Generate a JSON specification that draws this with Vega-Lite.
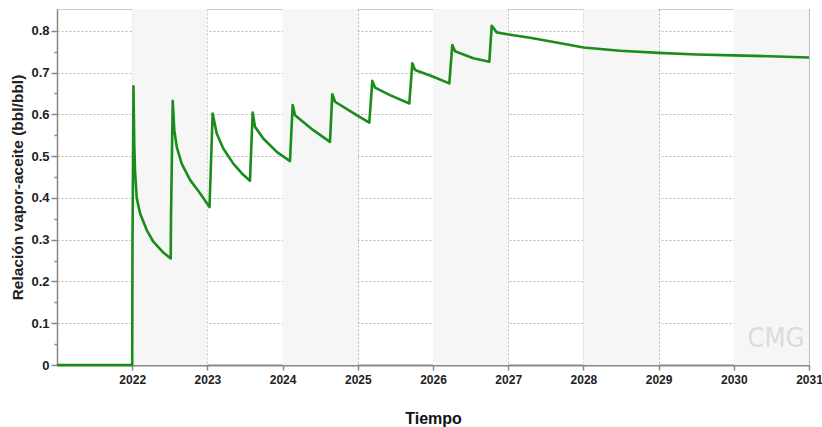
{
  "$schema": "https://vega.github.io/schema/vega-lite/v6.json",
  "autosize": {"type": "none"},
  "width": 752,
  "height": 356,
  "padding": {"left": 57, "top": 9, "right": 13, "bottom": 62},
  "background": "white",
  "config": {
    "view": {"stroke": "#cccccc", "strokeWidth": 1},
    "font": "Liberation Sans",
    "axisX": {
      "grid": true, "gridColor": "#b0b0b0", "gridDash": [2, 2], "gridWidth": 1,
      "domainColor": "#888888", "domainWidth": 2,
      "tickColor": "#888888", "tickSize": 5, "tickWidth": 1.5,
      "labelFont": "Liberation Sans", "labelFontSize": 12, "labelFontWeight": "bold",
      "labelColor": "#222222", "labelPadding": 4, "labelFlush": false,
      "titleFont": "Liberation Sans", "titleFontSize": 16, "titleFontWeight": "bold",
      "titleColor": "#111111", "titlePadding": 25
    },
    "axisY": {
      "grid": true, "gridColor": "#bbbbbb", "gridDash": [2, 2], "gridWidth": 1,
      "domainColor": "#888888", "domainWidth": 1.5,
      "tickColor": "#888888", "tickWidth": 1.5, "tickSize": 6,
      "labelFont": "Liberation Sans", "labelFontSize": 13, "labelFontWeight": "bold",
      "labelColor": "#222222", "labelPadding": 2,
      "titleFont": "Liberation Sans", "titleFontSize": 15.5, "titleFontWeight": "bold",
      "titleColor": "#222222", "titlePadding": 5
    }
  },
  "datasets": {
    "bands": [
      {"start": 2022, "end": 2023},
      {"start": 2024, "end": 2025},
      {"start": 2026, "end": 2027},
      {"start": 2028, "end": 2029},
      {"start": 2030, "end": 2031}
    ],
    "mark": [
      {"label": "CMG"}
    ],
    "series": [
      {"t": 2021.0, "v": 0},
      {"t": 2022.0, "v": 0},
      {"t": 2022.004, "v": 0.29},
      {"t": 2022.017, "v": 0.667},
      {"t": 2022.027, "v": 0.53},
      {"t": 2022.037, "v": 0.467},
      {"t": 2022.060, "v": 0.40},
      {"t": 2022.104, "v": 0.363},
      {"t": 2022.193, "v": 0.323},
      {"t": 2022.281, "v": 0.295},
      {"t": 2022.414, "v": 0.269},
      {"t": 2022.512, "v": 0.255},
      {"t": 2022.516, "v": 0.355},
      {"t": 2022.539, "v": 0.632},
      {"t": 2022.560, "v": 0.562},
      {"t": 2022.592, "v": 0.522},
      {"t": 2022.658, "v": 0.482},
      {"t": 2022.769, "v": 0.443},
      {"t": 2022.902, "v": 0.411},
      {"t": 2023.028, "v": 0.378},
      {"t": 2023.070, "v": 0.602},
      {"t": 2023.124, "v": 0.554},
      {"t": 2023.211, "v": 0.518},
      {"t": 2023.344, "v": 0.482},
      {"t": 2023.456, "v": 0.459},
      {"t": 2023.566, "v": 0.441},
      {"t": 2023.602, "v": 0.604},
      {"t": 2023.633, "v": 0.570},
      {"t": 2023.743, "v": 0.542},
      {"t": 2023.922, "v": 0.510},
      {"t": 2024.098, "v": 0.488},
      {"t": 2024.134, "v": 0.622},
      {"t": 2024.165, "v": 0.598},
      {"t": 2024.408, "v": 0.562},
      {"t": 2024.630, "v": 0.534},
      {"t": 2024.661, "v": 0.648},
      {"t": 2024.697, "v": 0.630},
      {"t": 2024.985, "v": 0.598},
      {"t": 2025.153, "v": 0.580},
      {"t": 2025.193, "v": 0.680},
      {"t": 2025.229, "v": 0.664},
      {"t": 2025.428, "v": 0.646},
      {"t": 2025.685, "v": 0.626},
      {"t": 2025.725, "v": 0.722},
      {"t": 2025.761, "v": 0.706},
      {"t": 2026.004, "v": 0.690},
      {"t": 2026.217, "v": 0.674},
      {"t": 2026.257, "v": 0.766},
      {"t": 2026.293, "v": 0.751},
      {"t": 2026.536, "v": 0.734},
      {"t": 2026.749, "v": 0.726},
      {"t": 2026.781, "v": 0.812},
      {"t": 2026.847, "v": 0.796},
      {"t": 2027.068, "v": 0.789},
      {"t": 2027.290, "v": 0.783},
      {"t": 2027.512, "v": 0.776},
      {"t": 2027.733, "v": 0.769},
      {"t": 2028.0, "v": 0.760},
      {"t": 2028.487, "v": 0.752},
      {"t": 2029.0, "v": 0.747},
      {"t": 2029.507, "v": 0.743},
      {"t": 2030.0, "v": 0.741},
      {"t": 2030.481, "v": 0.739},
      {"t": 2031.0, "v": 0.736}
    ]
  },
  "layer": [
    {
      "data": {"name": "bands"},
      "mark": {"type": "rect", "color": "#f6f6f6"},
      "encoding": {
        "x": {"field": "start", "type": "quantitative",
              "scale": {"domain": [2021, 2031], "nice": false, "zero": false},
              "axis": {"title": "Tiempo", "values": [2022, 2023, 2024, 2025, 2026, 2027, 2028, 2029, 2030, 2031], "format": "d"}},
        "x2": {"field": "end"}
      }
    },
    {
      "data": {"name": "series"},
      "mark": {"type": "line", "color": "#1a8c1a", "strokeWidth": 2.6, "strokeJoin": "round"},
      "encoding": {
        "x": {
          "field": "t", "type": "quantitative",
          "scale": {"domain": [2021, 2031], "nice": false, "zero": false},
          "axis": {"title": "Tiempo", "values": [2022, 2023, 2024, 2025, 2026, 2027, 2028, 2029, 2030, 2031], "format": "d"}
        },
        "y": {
          "field": "v", "type": "quantitative",
          "scale": {"domain": [0, 0.852], "nice": false},
          "axis": {
            "title": "Relación vapor-aceite (bbl/bbl)",
            "values": [0, 0.05, 0.1, 0.15, 0.2, 0.25, 0.3, 0.35, 0.4, 0.45, 0.5, 0.55, 0.6, 0.65, 0.7, 0.75, 0.8],
            "labelExpr": "round(datum.value*100) % 10 == 0 ? (datum.value == 0 ? '0' : format(datum.value, '.1f')) : ''",
            "gridOpacity": {"condition": {"test": "round(datum.value*100) % 10 != 0", "value": 0}, "value": 1},
            "tickSize": {"condition": {"test": "round(datum.value*100) % 10 != 0", "value": 3}, "value": 6}
          }
        }
      }
    },
    {
      "data": {"name": "mark"},
      "mark": {"type": "text", "font": "DejaVu Sans Condensed", "fontSize": 27, "color": "#dcdcdc", "align": "center", "baseline": "middle"},
      "encoding": {
        "text": {"field": "label"},
        "x": {"datum": 2030.56, "type": "quantitative",
              "scale": {"domain": [2021, 2031], "nice": false, "zero": false},
              "axis": {"title": "Tiempo", "values": [2022, 2023, 2024, 2025, 2026, 2027, 2028, 2029, 2030, 2031], "format": "d"}},
        "y": {"datum": 0.062, "type": "quantitative",
              "scale": {"domain": [0, 0.852], "nice": false},
              "axis": {
                "title": "Relación vapor-aceite (bbl/bbl)",
                "values": [0, 0.05, 0.1, 0.15, 0.2, 0.25, 0.3, 0.35, 0.4, 0.45, 0.5, 0.55, 0.6, 0.65, 0.7, 0.75, 0.8],
                "labelExpr": "round(datum.value*100) % 10 == 0 ? (datum.value == 0 ? '0' : format(datum.value, '.1f')) : ''",
                "gridOpacity": {"condition": {"test": "round(datum.value*100) % 10 != 0", "value": 0}, "value": 1},
                "tickSize": {"condition": {"test": "round(datum.value*100) % 10 != 0", "value": 3}, "value": 6}
              }}
      }
    }
  ]
}
